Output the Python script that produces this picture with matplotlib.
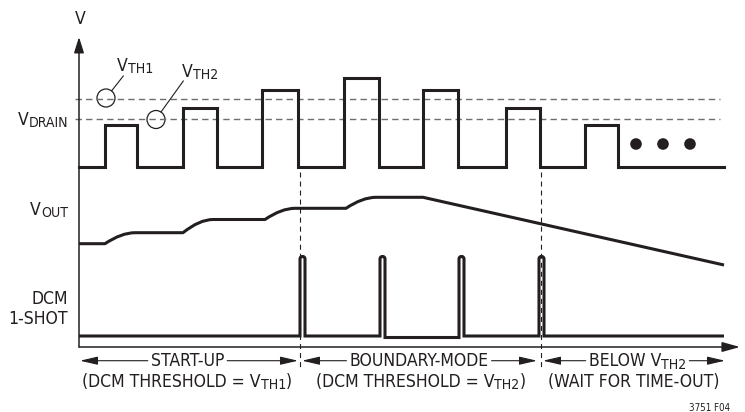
import matplotlib
matplotlib.use("Agg")
import matplotlib.pyplot as plt
from matplotlib import font_manager
from matplotlib.path import Path
from matplotlib.patches import PathPatch, Circle

_fonts = font_manager.fontManager.ttflist
_names = {f.name for f in _fonts}
_dvc = [f for f in _fonts if f.name == 'DejaVu Sans'
        and str(f.stretch) in ('condensed', 'semi-condensed', '500', '400')
        and 'Condensed' in f.fname and 'Bold' not in f.fname and 'Oblique' not in f.fname]
if 'Liberation Sans Narrow' in _names:
    FAMILY, STRETCH, FS, MODE = 'Liberation Sans Narrow', 'normal', 13.3, 'narrow'
elif _dvc:
    FAMILY, STRETCH, FS, MODE = 'DejaVu Sans', _dvc[0].stretch, 12.6, 'dvc'
else:
    FAMILY, STRETCH, FS, MODE = 'Liberation Sans', 'normal', 11.5, 'lib'
plt.rcParams['font.family'] = [FAMILY, 'DejaVu Sans']
plt.rcParams['font.stretch'] = STRETCH
plt.rcParams['lines.scale_dashes'] = False

INK = '#231f20'
GRAY = '#6d6e71'

# ---------------- data (time units, voltage units) ----------------
drain_rise_t = [26, 104, 183, 265, 344, 427, 506]
drain_fall_t = [58, 138, 219, 300, 379, 461, 539]
drain_high = [222, 239, 257, 269, 257, 239, 222]
drain_low = 180
drain_end_t = 645
dots_t = [557, 584, 611]
dots_v = 203

vth_levels = [248, 228]            # VTH1, VTH2
vth_line_t = [-4, 641]
vth_circle_t = [27, 77]
vth_circle_v = [249, 227.5]

vout_start = 103.3
vout_levels = [114.3, 127.5, 138.7, 149.7]
vout_ramp_t = [26, 104, 186, 267]
vout_ramp_dur = 30
vout_decay_t = [344, 645]
vout_end = 82

dcm_base = [11, 11, 9.5, 11, 11]
dcm_pulse_t = [221, 301, 380, 460]
dcm_pulse_w = 5
dcm_top = 90.5
dcm_end_t = 645

phase_bounds_t = [221, 462]
phase_arrow_tips = [(1, 219), (223, 458), (464, 646)]
phase_top = [[("START-UP", False)],
             [("BOUNDARY-MODE", False)],
             [("BELOW V", False), ("TH2", True)]]
phase_bottom = [[("(DCM THRESHOLD = V", False), ("TH1", True), (")", False)],
                [("(DCM THRESHOLD = V", False), ("TH2", True), (")", False)],
                [("(WAIT FOR TIME-OUT)", False)]]
phase_top_center = [108.5, 340, 558.5]
phase_bottom_center = [108, 341.5, 555]

# ---------------- figure ----------------
fig = plt.figure(figsize=(7.45, 4.12), dpi=100)
ax = fig.add_axes([0, 0, 1, 1])
ax.set_xlim(-79, 666)
ax.set_ylim(-65, 347)
ax.axis('off')
renderer = fig.canvas.get_renderer()


def rich(x, y, pieces, size=FS, ha='left', color=INK):
    arts, widths = [], []
    for s, sub in pieces:
        fs = size * 0.8 if sub else size
        t = ax.text(0, 0, s, fontsize=fs, color=color, ha='left', va='baseline',
                    fontstretch=STRETCH)
        widths.append(t.get_window_extent(renderer).width)
        arts.append((t, sub))
    total = sum(widths)
    frac = {'left': 0.0, 'center': 0.5, 'right': 1.0}[ha]
    cur = x - total * frac
    for (t, sub), w in zip(arts, widths):
        t.set_position((cur, y - (2.4 if sub else 0)))
        cur += w
    return x - total * frac, x - total * frac + total


# axes with arrows
ax.annotate('', xy=(0, 310), xytext=(0, 0),
            arrowprops=dict(arrowstyle='-|>,head_length=0.95,head_width=0.3',
                            lw=1.1, color=INK, shrinkA=0, shrinkB=0, mutation_scale=10))
ax.annotate('', xy=(661, 0), xytext=(0, 0),
            arrowprops=dict(arrowstyle='-|>,head_length=1.08,head_width=0.3',
                            lw=1.1, color=INK, shrinkA=0, shrinkB=0, mutation_scale=10))
ax.text(1, 328, 'V', fontsize=FS, color=INK, ha='center', va='center', fontstretch=STRETCH)

# threshold dashed lines
for lv in vth_levels:
    ax.plot(vth_line_t, [lv, lv], color=GRAY, lw=1.0, dashes=(4.6, 3.0))

# V_DRAIN waveform
xs, ys = [0], [drain_low]
for r, f, h in zip(drain_rise_t, drain_fall_t, drain_high):
    xs += [r, r, f, f]
    ys += [drain_low, h, h, drain_low]
xs.append(drain_end_t)
ys.append(drain_low)
ax.plot(xs, ys, color=INK, lw=2.2, solid_joinstyle='miter')
for d in dots_t:
    ax.add_patch(Circle((d, dots_v), 5.8, color=INK, lw=0))

# threshold markers
for cx, cy in zip(vth_circle_t, vth_circle_v):
    ax.add_patch(Circle((cx, cy), 9, fill=False, ec=INK, lw=0.9))
ax.plot([32.7, 44.3], [256.3, 271], color=INK, lw=0.8)
ax.plot([82, 104.3], [235, 266], color=INK, lw=0.8)
rich(38, 276, [("V", False), ("TH1", True)])
rich(103, 270, [("V", False), ("TH2", True)])

# V_OUT waveform
verts = [(0, vout_start)]
codes = [Path.MOVETO]
prev = vout_start
for t0, lvl in zip(vout_ramp_t, vout_levels):
    verts += [(t0, prev), (t0 + 0.55 * vout_ramp_dur, lvl), (t0 + vout_ramp_dur, lvl)]
    codes += [Path.LINETO, Path.CURVE3, Path.CURVE3]
    prev = lvl
verts += [(vout_decay_t[0], prev), (vout_decay_t[1], vout_end)]
codes += [Path.LINETO, Path.LINETO]
ax.add_patch(PathPatch(Path(verts, codes), fill=False, ec=INK, lw=2.2,
                       joinstyle='round', capstyle='butt'))

# DCM 1-shot waveform
verts = [(0, dcm_base[0])]
codes = [Path.MOVETO]
r = dcm_pulse_w / 2
for i, t0 in enumerate(dcm_pulse_t):
    t1 = t0 + dcm_pulse_w
    verts += [(t0, dcm_base[i]), (t0, dcm_top - r),
              (t0, dcm_top + r * 0.35), (t1, dcm_top + r * 0.35), (t1, dcm_top - r),
              (t1, dcm_base[i + 1])]
    codes += [Path.LINETO, Path.LINETO, Path.CURVE4, Path.CURVE4, Path.CURVE4, Path.LINETO]
verts.append((dcm_end_t, dcm_base[-1]))
codes.append(Path.LINETO)
ax.add_patch(PathPatch(Path(verts, codes), fill=False, ec=INK, lw=2.2,
                       joinstyle='miter', capstyle='butt'))

# phase boundaries
for pb in phase_bounds_t:
    ax.plot([pb, pb], [175, -21], color=INK, lw=0.8, dashes=(3.6, 2.9))

# signal labels
rich(-11, 222, [("V", False), ("DRAIN", True)], ha='right')
rich(-11, 132, [("V", False), ("OUT", True)], ha='right')
rich(-11, 43.5, [("DCM", False)], ha='right')
rich(-11, 23.5, [("1-SHOT", False)], ha='right')

# phase annotations
ARROW_V = -13.7
for (a, b), top, bot, ct, cb in zip(phase_arrow_tips, phase_top, phase_bottom,
                                     phase_top_center, phase_bottom_center):
    l, rgt = rich(ct, -19.5, top, ha='center')
    rich(cb, -40, bot, ha='center')
    for start, tip in ((l - 3, a), (rgt + 3, b)):
        ax.annotate('', xy=(tip, ARROW_V), xytext=(start, ARROW_V),
                    arrowprops=dict(arrowstyle='-|>,head_length=1.08,head_width=0.25',
                                    lw=0.8, color=INK, shrinkA=0, shrinkB=0,
                                    mutation_scale=10))

ax.text(631, -64, '3751 F04', fontsize=FS * 0.56, color=INK,
        ha='center', va='baseline', fontstretch=STRETCH)

fig.savefig('out.png', dpi=100)
